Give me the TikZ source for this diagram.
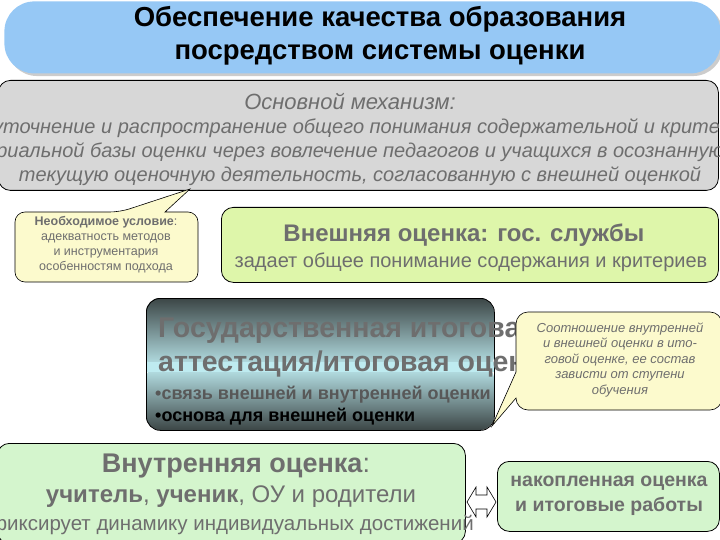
\documentclass[tikz,border=0pt]{standalone}
\usepackage{fontspec}
\setmainfont{Liberation Sans}
\usetikzlibrary{shadows}
\definecolor{titleblue}{RGB}{150,200,245}
\definecolor{mechgray}{RGB}{215,215,215}
\definecolor{txtgray}{RGB}{110,110,110}
\definecolor{callyel}{RGB}{252,250,205}
\definecolor{extgreen}{RGB}{222,246,170}
\definecolor{intgreen}{RGB}{212,245,205}
\definecolor{darkbox}{RGB}{60,70,70}
\definecolor{cyanbox}{RGB}{190,235,240}
\tikzset{
  box/.style={draw=black,rounded corners=12pt,line width=0.8pt},
  lbl/.style={align=center,text=txtgray,inner sep=0pt},
}
\begin{document}
\begin{tikzpicture}[x=1pt,y=-1pt]
\useasboundingbox (0,0) rectangle (720,540);
\clip (0,0) rectangle (720,540);
% title
\node[box,draw=none,fill=titleblue,minimum width=716pt,minimum height=72pt,anchor=north west,rounded corners=30pt,drop shadow={opacity=0.4}] (title) at (4,1) {};
\node[align=center,font=\bfseries\fontsize{27.5}{33}\selectfont] (titletxt) at (380,36) {Обеспечение качества образования\\посредством системы оценки};
% mechanism
\node[box,fill=mechgray,minimum width=720pt,minimum height=110pt,anchor=north west] (mech) at (-2,80) {};
\node[lbl,font=\itshape\fontsize{22}{24}\selectfont] (mechhead) at (350,101) {Основной механизм\textmd{:}};
\node[lbl,font=\itshape\fontsize{20}{24}\selectfont] (mechtxt) at (360,152) {уточнение и распространение общего понимания содержательной и крите-\\риальной базы оценки через вовлечение педагогов и учащихся в осознанную\\текущую оценочную деятельность, согласованную с внешней оценкой};
% callout 1
\draw[fill=callyel,line width=0.6pt,rounded corners=10pt] (15,212) -- (120,212) [sharp corners]-- (190,189) -- (165,212) [rounded corners=10pt]-- (198,212) -- (198,282) -- (15,282) -- cycle;
\node[lbl,font=\fontsize{12.5}{15}\selectfont] (cond) at (106,245) {\textbf{Необходимое условие}:\\адекватность методов\\и инструментария\\особенностям подхода};
% external
\node[box,fill=extgreen,minimum width=497pt,minimum height=75pt,anchor=north west] (ext) at (221,207) {};
\node[lbl,font=\bfseries\fontsize{24}{26}\selectfont] (exthead) at (464,235) {Внешняя оценка: гос. службы};
\node[lbl,font=\fontsize{20}{22}\selectfont] (exttxt) at (471,262) {задает общее понимание содержания и критериев};
% state exam
\shade[top color=darkbox,bottom color=cyanbox,rounded corners=14pt] (146,298) rectangle (494,370);
\shade[top color=cyanbox,bottom color=darkbox,rounded corners=14pt] (146,365) rectangle (494,430);
\fill[cyanbox] (146,362) rectangle (494,372);
\node[box,draw=black,minimum width=348pt,minimum height=132pt,anchor=north west,rounded corners=14pt] (gia) at (146,298) {};
\node[anchor=west,inner sep=0pt,text=txtgray,font=\bfseries\fontsize{28.5}{30}\selectfont] (g1) at (158,331) {Государственная итоговая};
\node[anchor=west,inner sep=0pt,text=txtgray,font=\bfseries\fontsize{28.5}{30}\selectfont] (g2) at (158,364) {аттестация/итоговая оценка};
\node[anchor=west,inner sep=0pt,text=txtgray!80!black,font=\bfseries\fontsize{18}{20}\selectfont] (g3) at (155,395) {•связь внешней и внутренней оценки};
\node[anchor=west,inner sep=0pt,text=black,font=\bfseries\fontsize{18}{20}\selectfont] (g4) at (155,417) {•основа для внешней оценки};
% callout 2
\draw[fill=callyel,line width=0.6pt,rounded corners=12pt] (516,312) -- (722,312) -- (722,410) -- (516,410) [sharp corners]-- (516,398) -- (492,426) -- (516,372) [rounded corners=12pt]-- cycle;
\node[lbl,font=\itshape\fontsize{13}{15.5}\selectfont] (ratio) at (620,360) {Соотношение внутренней\\и внешней оценки в ито-\\говой оценке, ее состав\\зависти от ступени\\обучения};
% internal
\node[box,fill=intgreen,minimum width=468pt,minimum height=100pt,anchor=north west] (int) at (-3,443) {};
\node[lbl,font=\bfseries\fontsize{27}{30}\selectfont] (inthead) at (236,466) {Внутренняя оценка\textmd{:}};
\node[lbl,font=\fontsize{24}{26}\selectfont] (int2) at (231,497) {\textbf{учитель}, \textbf{ученик}, ОУ и родители};
\node[lbl,font=\fontsize{20.5}{22}\selectfont] (int3) at (232,525) {фиксирует динамику индивидуальных достижений};
% right box
\node[box,fill=intgreen,minimum width=222pt,minimum height=70pt,anchor=north west] (acc) at (497,461) {};
\node[lbl,font=\bfseries\fontsize{19.5}{25}\selectfont] (acctxt) at (609,496) {накопленная оценка\\и итоговые работы};
% double arrow
\coordinate (al) at (467,502);
\coordinate (ar) at (496,502);
\draw[fill=white,line width=0.6pt] (al) -- ++(9,-15) -- ++(0,8) -- ++(11,0) -- ++(0,-8) -- (ar) -- ++(-9,15) -- ++(0,-8) -- ++(-11,0) -- ++(0,8) -- cycle;
\end{tikzpicture}
\end{document}
